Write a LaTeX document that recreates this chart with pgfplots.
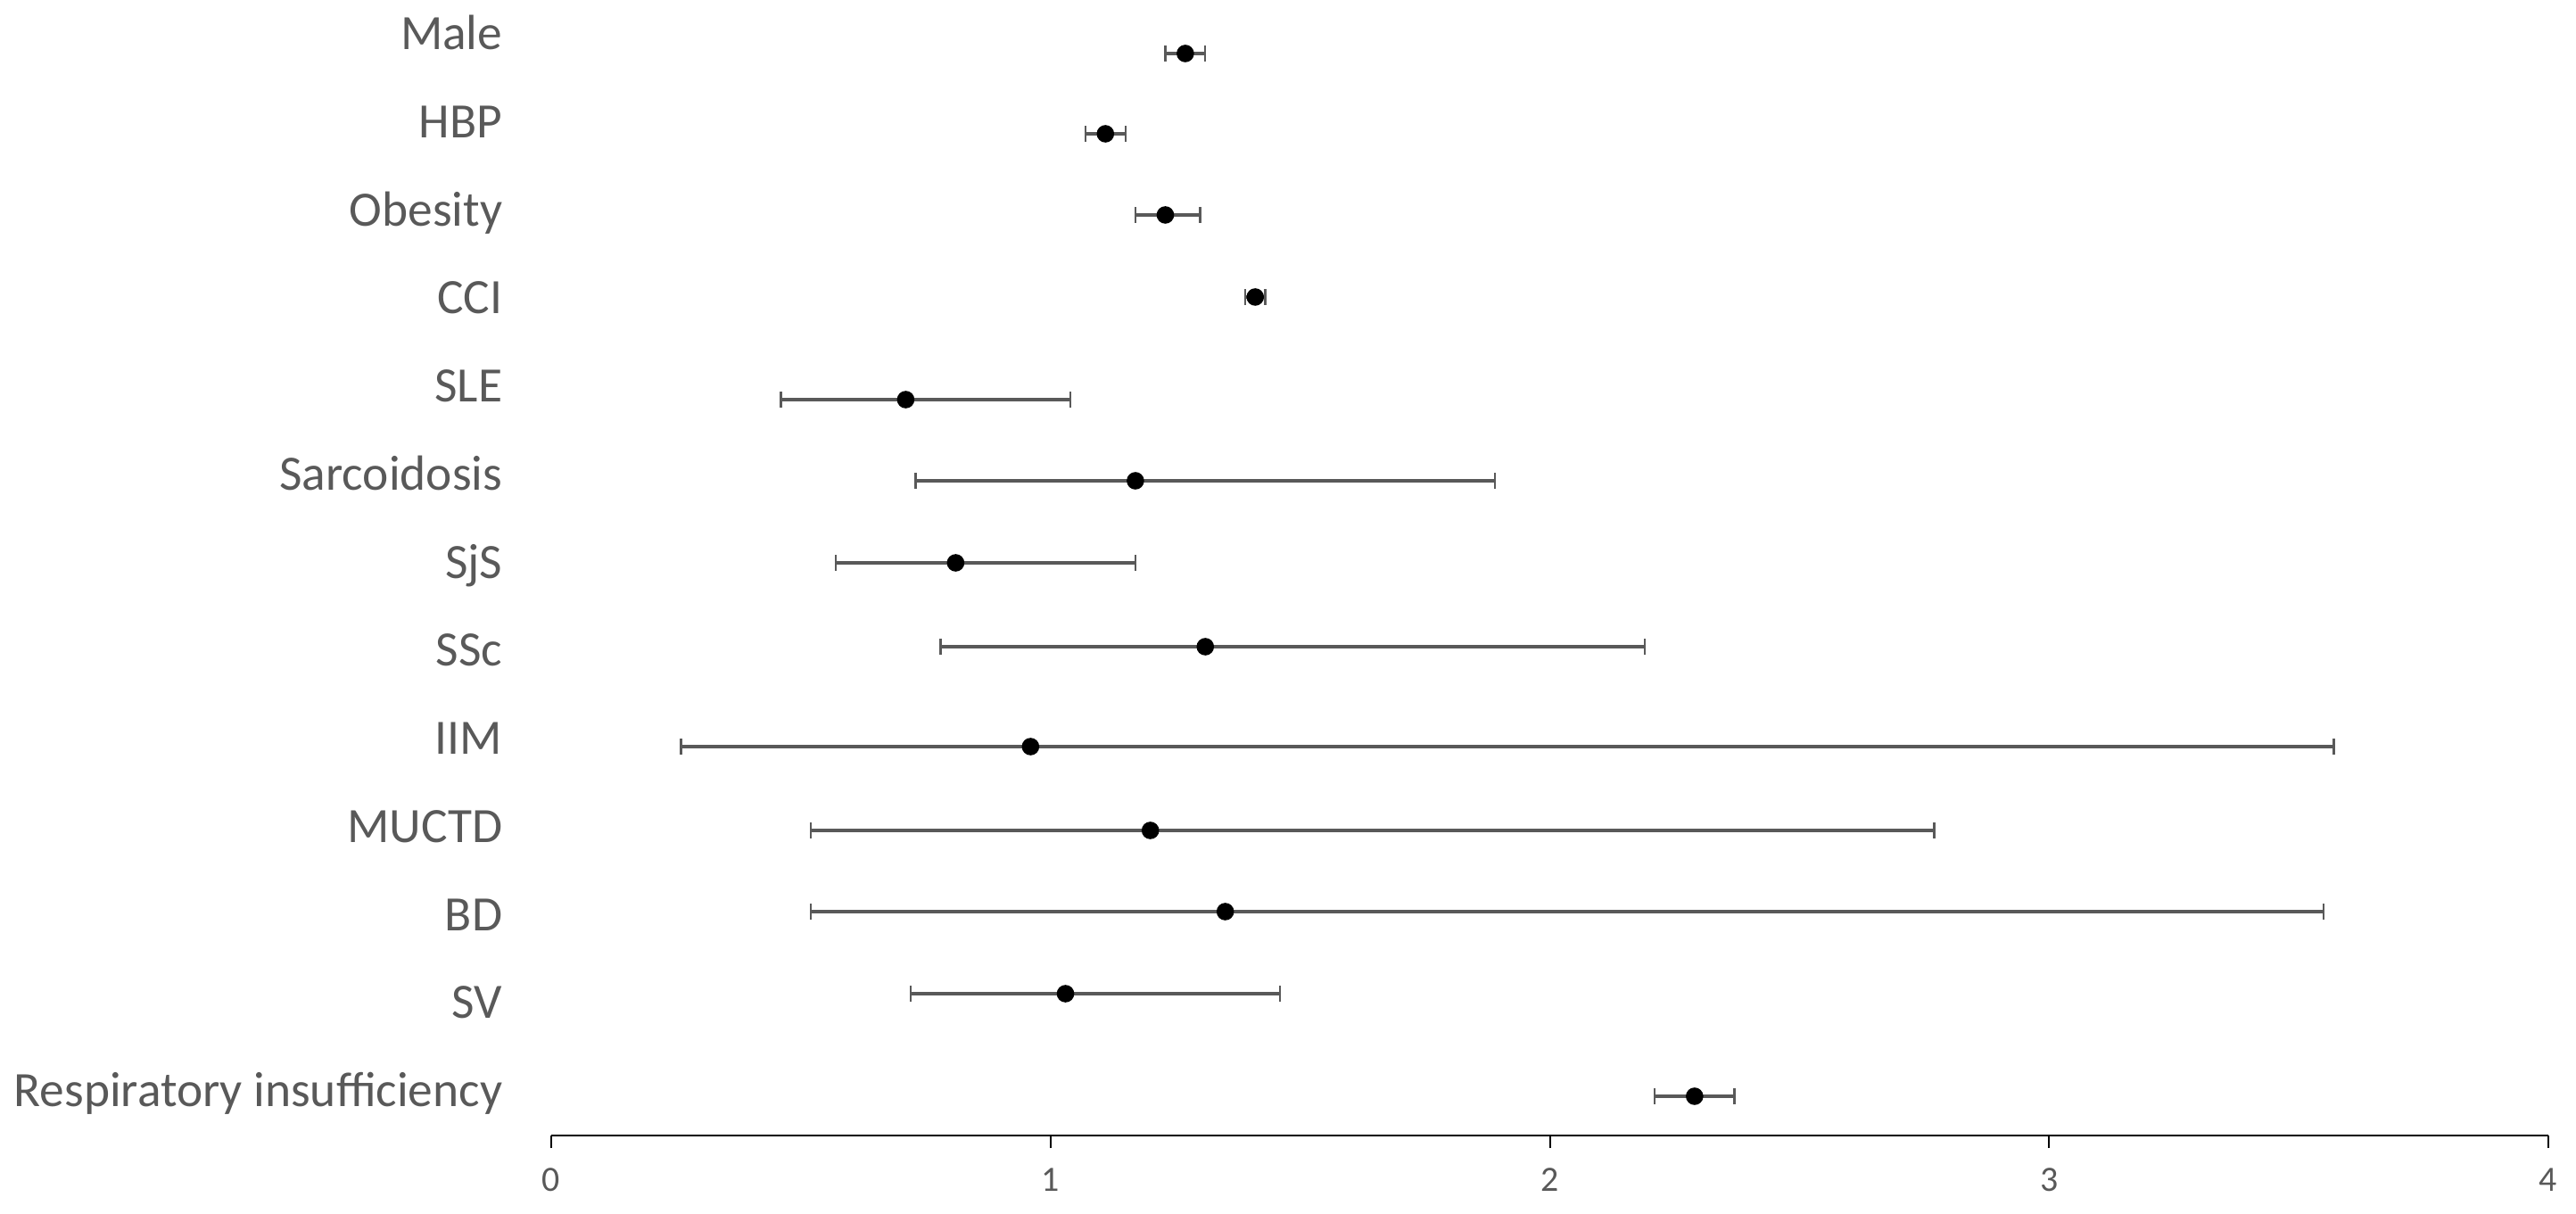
\documentclass[border=0pt]{standalone}
\usepackage{fontspec}
\setmainfont{Carlito}
\usepackage{pgfplots}
\pgfplotsset{compat=1.18}
\usepackage{pgfplotstable}
\definecolor{txt}{HTML}{595959}
\definecolor{barc}{HTML}{595959}

% y = vertical position (image pixels above the x axis), x = estimate, lo/hi = interval
\pgfplotstableread{
y    x    lo   hi
1213 1.27 1.23 1.31
1123 1.11 1.07 1.15
1032 1.23 1.17 1.30
940  1.41 1.39 1.43
825  0.71 0.46 1.04
734  1.17 0.73 1.89
642  0.81 0.57 1.17
548  1.31 0.78 2.19
436  0.96 0.26 3.57
342  1.20 0.52 2.77
251  1.35 0.52 3.55
159  1.03 0.72 1.46
44   2.29 2.21 2.37
}\data

\begin{document}
\begin{tikzpicture}
\useasboundingbox (0,0) rectangle (722bp,340.25bp);
\begin{axis}[
  at={(154.5bp,22bp)}, anchor=south west,
  scale only axis, width=559.75bp, height=318.25bp,
  xmin=0, xmax=4, ymin=0, ymax=1273,
  clip=false,
  axis x line*=bottom, axis y line*=left,
  y axis line style={draw=none},
  x axis line style={black, line width=0.6bp},
  xtick={0,1,2,3,4},
  xtick align=outside,
  major tick length=3.5bp,
  xtick style={black, line width=0.5bp},
  ytick align=inside,
  ytick style={draw=none},
  ytick={50,148.75,247.5,346.25,445,543.75,642.5,741.25,840,938.75,1037.5,1136.25,1235},
  yticklabels={Respiratory insufficiency,SV,BD,MUCTD,IIM,SSc,SjS,Sarcoidosis,SLE,CCI,Obesity,HBP,Male},
  /pgf/number format/assume math mode=true,
  xticklabel style={font=\fontsize{10}{12}\selectfont, text=txt, anchor=center, inner sep=0pt,
    text height=6.3bp, text depth=0pt, yshift=-9bp},
  yticklabel style={font=\fontsize{13.9}{16}\selectfont, text=txt, anchor=east, inner sep=0pt,
    text height=8.8bp, text depth=0pt, xshift=-13.5bp},
]
\addplot[only marks, mark=*, mark size=2.25bp, mark options={fill=black, draw=black},
  error bars/.cd, x dir=both, x explicit,
  error bar style={color=barc, line width=0.8bp},
  error mark options={color=barc, line width=0.6bp, mark size=2.2bp, rotate=90}]
  table[x=x, y=y, x error plus expr=\thisrow{hi}-\thisrow{x}, x error minus expr=\thisrow{x}-\thisrow{lo}] {\data};
\end{axis}
\end{tikzpicture}
\end{document}
